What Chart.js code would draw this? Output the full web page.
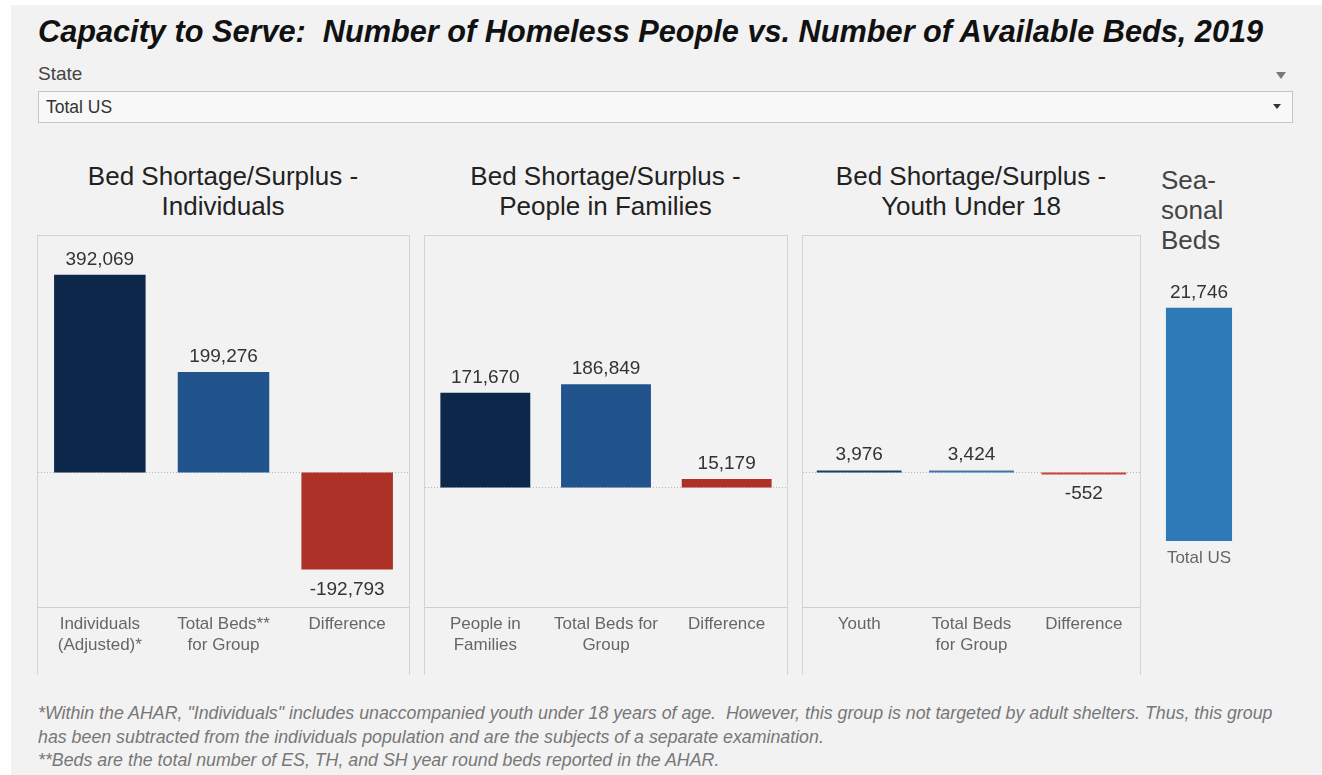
<!DOCTYPE html>
<html>
<head>
<meta charset="utf-8">
<script src="https://cdn.jsdelivr.net/npm/chart.js@4.4.1/dist/chart.umd.min.js"></script>
<style>
  html, body { margin: 0; padding: 0; background: #fff; }
  body { width: 1322px; height: 775px; position: relative; overflow: hidden; font-family: Arial, "Liberation Sans", sans-serif; }
  .sheet { position: absolute; left: 11px; top: 5px; right: 0; bottom: 0; background: #f2f2f2; }
  .abs { position: absolute; }
  .title { left: 38px; top: 14px; font-size: 30.7px; line-height: 36px; font-weight: bold; font-style: italic; color: #111; white-space: nowrap; }
  .state { left: 38px; top: 63px; font-size: 19px; line-height: 22px; color: #444; }
  .arrow { width: 0; height: 0; border-left: 5px solid transparent; border-right: 5px solid transparent; }
  .select { left: 38px; top: 91px; width: 1253px; height: 30px; background: #f8f8f8; border: 1px solid #c6c6c6; }
  .select span { position: absolute; left: 7px; top: 4px; font-size: 17.5px; line-height: 22px; color: #333; }
  .panel-title { top: 161px; font-size: 26px; line-height: 30px; color: #222; text-align: center; white-space: nowrap; }
  .box { top: 235px; height: 440px; border: 1px solid #d3d3d3; border-bottom: none; box-sizing: border-box; }
  .box canvas { position: absolute; left: 0; top: 0; }
  .note { left: 38px; top: 702px; font-size: 17.8px; line-height: 23.5px; font-style: italic; color: #777; white-space: nowrap; }
</style>
</head>
<body>
<div class="sheet"></div>

<div class="abs title">Capacity to Serve:&nbsp; Number of Homeless People vs. Number of Available Beds, 2019</div>
<div class="abs state">State</div>
<div class="abs arrow" style="left:1276px; top:72px; border-top:7px solid #777;"></div>
<div class="abs select"><span>Total US</span>
  <div class="abs arrow" style="left:1234px; top:12px; border-left-width:4px; border-right-width:4px; border-top:5px solid #333;"></div>
</div>

<div class="abs panel-title" style="left:37px; width:372px;">Bed Shortage/Surplus -<br>Individuals</div>
<div class="abs panel-title" style="left:424px; width:363px;">Bed Shortage/Surplus -<br>People in Families</div>
<div class="abs panel-title" style="left:802px; width:338px;">Bed Shortage/Surplus -<br>Youth Under 18</div>
<div class="abs panel-title" style="left:1161px; top:165px; text-align:left; color:#444;">Sea-<br>sonal<br>Beds</div>

<div class="abs box" style="left:37px; width:373px;"><canvas id="individualsChart"></canvas></div>
<div class="abs box" style="left:424px; width:364px;"><canvas id="familiesChart"></canvas></div>
<div class="abs box" style="left:802px; width:339px;"><canvas id="youthChart"></canvas></div>
<div class="abs" style="left:1140px; top:260px; width:118px; height:320px;"><canvas id="seasonalChart"></canvas></div>

<div class="abs note">*Within the AHAR, "Individuals" includes unaccompanied youth under 18 years of age.&nbsp; However, this group is not targeted by adult shelters. Thus, this group<br>has been subtracted from the individuals population and are the subjects of a separate examination.<br>**Beds are the total number of ES, TH, and SH year round beds reported in the AHAR.</div>

<script>
// categories and values per panel
const individualsLabels = [["Individuals", "(Adjusted)*"], ["Total Beds**", "for Group"], "Difference"];
const individualsValues = [392069, 199276, -192793];

const familiesLabels = [["People in", "Families"], ["Total Beds for", "Group"], "Difference"];
const familiesValues = [171670, 186849, 15179];

const youthLabels = ["Youth", ["Total Beds", "for Group"], "Difference"];
const youthValues = [3976, 3424, -552];

const seasonalLabels = ["Total US"];
const seasonalValues = [21746];

// axis ranges
const individualsRange = [-267000, 469000];
const familiesRange = [-217000, 456000];
const youthRange = [-267000, 469000];
const seasonalRange = [0, 26200];

const barColors = ["#0c2749", "#21538c", "#ae3128"];
const youthColors = ["#1d3d66", "#3f74ad", "#c9443a"];
const seasonalColor = "#2e7ab8";

// value text above/below each bar
const valueLabels = {
  id: "valueLabels",
  afterDatasetsDraw(chart) {
    const ctx = chart.ctx;
    const meta = chart.getDatasetMeta(0);
    const values = chart.data.datasets[0].data;
    ctx.save();
    ctx.font = "19px Arial, 'Liberation Sans', sans-serif";
    ctx.fillStyle = "#333";
    ctx.textAlign = "center";
    ctx.textBaseline = "alphabetic";
    meta.data.forEach(function (bar, i) {
      const v = values[i];
      const text = v.toLocaleString("en-US");
      if (v >= 0) {
        ctx.fillText(text, bar.x, bar.y - 10);
      } else {
        ctx.fillText(text, bar.x, bar.y + 25);
      }
    });
    ctx.restore();
  }
};

// dotted zero line
const zeroLine = {
  id: "zeroLine",
  beforeDatasetsDraw(chart, args, opts) {
    if (!opts.show) return;
    const y = Math.round(chart.scales.y.getPixelForValue(0)) + 0.5;
    const area = chart.chartArea;
    const ctx = chart.ctx;
    ctx.save();
    ctx.strokeStyle = "#b8b8b8";
    ctx.lineWidth = 1;
    ctx.setLineDash([1, 2]);
    ctx.beginPath();
    ctx.moveTo(area.left, y);
    ctx.lineTo(area.right, y);
    ctx.stroke();
    ctx.restore();
  }
};

function makeChart(id, labels, values, colors, range, opts) {
  const canvas = document.getElementById(id);
  const box = canvas.parentNode;
  canvas.width = box.clientWidth;
  canvas.height = box.clientHeight;
  return new Chart(canvas.getContext("2d"), {
    type: "bar",
    data: {
      labels: labels,
      datasets: [{
        data: values,
        backgroundColor: colors,
        borderWidth: 0,
        barPercentage: opts.barPercentage,
        categoryPercentage: 1,
        minBarLength: opts.minBar || 0
      }]
    },
    options: {
      responsive: false,
      animation: false,
      layout: { padding: 0 },
      plugins: {
        legend: { display: false },
        tooltip: { enabled: false },
        zeroLine: { show: opts.zero !== false }
      },
      scales: {
        x: {
          grid: { display: false, drawTicks: false },
          border: { display: opts.axisLine !== false, color: "#cfcfcf" },
          ticks: {
            color: "#666",
            padding: opts.tickPadding || 7,
            maxRotation: 0,
            autoSkip: false,
            font: { family: "Arial, 'Liberation Sans', sans-serif", size: 17, lineHeight: 1.24 }
          },
          afterFit: function (scale) { scale.height = opts.axisHeight; }
        },
        y: {
          display: false,
          min: range[0],
          max: range[1]
        }
      }
    },
    plugins: [valueLabels, zeroLine]
  });
}

makeChart("individualsChart", individualsLabels, individualsValues, barColors, individualsRange,
  { barPercentage: 0.74, axisHeight: 68 });
makeChart("familiesChart", familiesLabels, familiesValues, barColors, familiesRange,
  { barPercentage: 0.745, axisHeight: 68 });
makeChart("youthChart", youthLabels, youthValues, youthColors, youthRange,
  { barPercentage: 0.755, axisHeight: 68, minBar: 2 });
makeChart("seasonalChart", seasonalLabels, seasonalValues, [seasonalColor], seasonalRange,
  { barPercentage: 0.56, axisHeight: 39, axisLine: false, zero: false, tickPadding: 7 });
</script>
</body>
</html>
